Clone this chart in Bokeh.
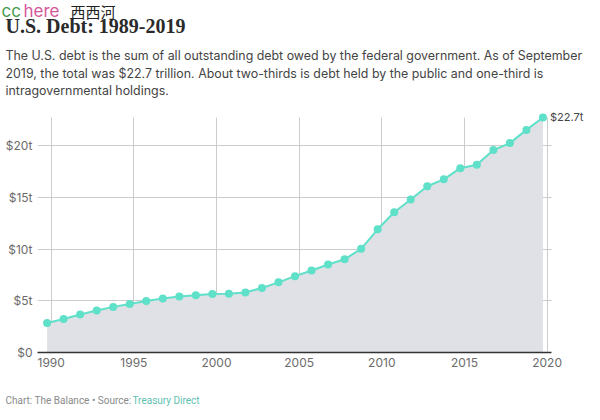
from bokeh.plotting import figure
from bokeh.models import Label, FixedTicker, Range1d
from bokeh.layouts import column
from bokeh.embed import file_html
from bokeh.resources import INLINE

# Fiscal-year-end (Sept 30) total public debt, trillions of dollars
years = [1989, 1990, 1991, 1992, 1993, 1994, 1995, 1996, 1997, 1998, 1999,
         2000, 2001, 2002, 2003, 2004, 2005, 2006, 2007, 2008, 2009,
         2010, 2011, 2012, 2013, 2014, 2015, 2016, 2017, 2018, 2019]
debt = [2.86, 3.23, 3.67, 4.06, 4.41, 4.69, 4.97, 5.22, 5.41, 5.53, 5.66,
        5.67, 5.81, 6.23, 6.78, 7.38, 7.93, 8.51, 9.01, 10.02, 11.91,
        13.56, 14.79, 16.07, 16.74, 17.82, 18.15, 19.57, 20.24, 21.52, 22.72]
x_ticks = [1990, 1995, 2000, 2005, 2010, 2015, 2020]
y_ticks = [0, 5, 10, 15, 20]
y_tick_labels = ["$0", "$5t", "$10t", "$15t", "$20t"]
end_label = "$22.7t"

# data points sit at the end of each fiscal year (September)
xs = [y + 0.75 for y in years]
X0, X1 = 1989.17, 2020.27

W = 596


def text_fig(h):
    f = figure(width=W, height=h, output_backend="svg", toolbar_location=None,
               x_range=Range1d(0, 1), y_range=Range1d(0, 1),
               x_axis_location=None, y_axis_location=None,
               min_border=0, min_border_left=0, min_border_right=0,
               min_border_top=0, min_border_bottom=0, frame_align=False)
    f.outline_line_color = None
    f.grid.visible = False
    return f


def lab(f, x, y, text, size, color, font="Inter", style="normal", baseline="middle"):
    f.add_layout(Label(x=x, y=y, x_units="screen", y_units="screen", text=text,
                       text_font=font, text_font_size=size, text_color=color,
                       text_font_style=style, text_baseline=baseline))


# ---- header ----
top = text_fig(112)
lab(top, 5, 87, "U.S. Debt: 1989-2019", "20px", "#2a2a2a", font="Liberation Serif",
    style="bold")
lab(top, 5, 57, "The U.S. debt is the sum of all outstanding debt owed by the federal government. As of September",
    "12.4px", "#444444")
lab(top, 5, 39, "2019, the total was $22.7 trillion. About two-thirds is debt held by the public and one-third is",
    "12.4px", "#444444")
lab(top, 5, 22, "intragovernmental holdings.", "12.4px", "#444444")
# watermark
lab(top, 1, 102, "cc", "17px", "#4a9a50")
lab(top, 23, 102, "here", "17px", "#d4589a")
lab(top, 70, 101, "西西河", "15px", "#222222", font="Noto Sans CJK SC")

# ---- chart ----
p = figure(width=W, height=268, output_backend="svg", toolbar_location=None,
           x_range=Range1d(X0, 2022.99), y_range=Range1d(0, 23.2),
           min_border_left=37, min_border_right=0, min_border_top=0,
           min_border_bottom=28, frame_align=False)
p.outline_line_color = None

p.varea(x=xs, y1=[0] * len(xs), y2=debt, fill_color="#dfe1e6")
p.line(xs, debt, line_color="#5fe0c8", line_width=2)
p.scatter(xs, debt, size=8, fill_color="#5fe0c8", line_color=None)
p.add_layout(Label(x=xs[-1], y=debt[-1], text=end_label, x_offset=7,
                   text_baseline="middle", text_align="left", text_font="Inter",
                   text_font_size="11px", text_color="#444444"))

p.xaxis.ticker = FixedTicker(ticks=x_ticks)
p.yaxis.ticker = FixedTicker(ticks=y_ticks)
p.yaxis.major_label_overrides = {t: l for t, l in zip(y_ticks, y_tick_labels)}
p.xaxis.bounds = (X0, X1)

for ax in (p.xaxis[0], p.yaxis[0]):
    ax.major_tick_line_color = None
    ax.minor_tick_line_color = None
    ax.major_tick_out = 0
    ax.major_tick_in = 0
    ax.major_label_text_font = "Inter"
    ax.major_label_text_font_size = "12px"
    ax.major_label_text_color = "#6b6b6b"
    ax.major_label_standoff = 5
p.yaxis.axis_line_color = None
p.xaxis.axis_line_color = "#333333"
p.xaxis.axis_line_width = 1.5

p.xgrid.grid_line_color = "#cccccc"
p.ygrid.grid_line_color = "#cccccc"
p.xgrid.cross_bounds = (0, max(debt))
p.ygrid.cross_bounds = (X0, X1)

# ---- footer ----
foot = text_fig(32)
lab(foot, 5, 12, "Chart: The Balance \u2022 Source: ", "10px", "#8a8a8a", font="Roboto")
lab(foot, 132, 12, "Treasury Direct", "10px", "#5fbfb2", font="Roboto")

layout = column(top, p, foot, spacing=0)
open("out.html", "w").write(file_html(layout, INLINE))
